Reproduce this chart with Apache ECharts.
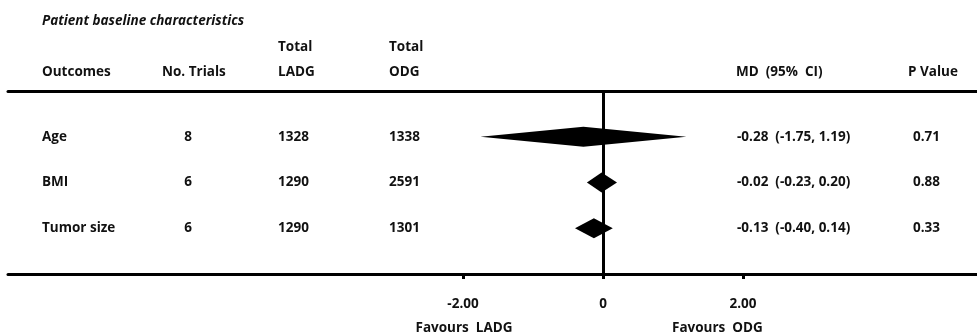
<!DOCTYPE html>
<html><head><meta charset="utf-8">
<script src="https://cdn.jsdelivr.net/npm/echarts@6/dist/echarts.min.js"></script>
<style>html,body{margin:0;padding:0;background:#fff}#c{width:977px;height:335px}</style>
</head><body><div id="c"></div>
<script>
// ---- data ----
const outcomes = ['Age', 'BMI', 'Tumor size'];
const trials = [8, 6, 6];
const totalLADG = [1328, 1290, 1290];
const totalODG = [1338, 2591, 1301];
const md = [-0.28, -0.02, -0.13];
const ciLow = [-1.75, -0.23, -0.40];
const ciHigh = [1.19, 0.20, 0.14];
const pValues = [0.71, 0.88, 0.33];
const tickValues = [-2, 0, 2];
const tickLabels = ['-2.00', '0', '2.00'];

// ---- layout ----
const FONT = '"Open Sans", "Noto Sans", sans-serif';
const FS = 13.5;
const INK = '#111';
const X_MIN = -8.5, X_MAX = 5.343;
const col = { outcome: 42, trials: 188, ladg: 278, odg: 389, md: 737, p: 913 };

const chart = echarts.init(document.getElementById('c'), null, { renderer: 'canvas' });

function txt(x, y, s, opts) {
  return {
    type: 'text', x: x, y: y,
    style: Object.assign({ text: s, fill: INK, font: 'bold ' + FS + 'px ' + FONT, textAlign: 'left', textVerticalAlign: 'middle' }, (opts || {}))
  };
}

const rowData = outcomes.map((o, i) => [i, i + 1]);
const diamondData = md.map((m, i) => [ciLow[i], m, ciHigh[i], i + 1]);

chart.setOption({
  animation: false,
  backgroundColor: '#fff',
  grid: { left: 8, right: 0, top: 91, bottom: 61 },
  xAxis: [{
    type: 'value', min: X_MIN, max: X_MAX, position: 'bottom',
    splitLine: { show: false },
    axisLine: { show: true, onZero: false, lineStyle: { color: '#000', width: 3 } },
    axisTick: { show: true, customValues: tickValues, length: 5, inside: false, lineStyle: { color: '#000', width: 3 } },
    axisLabel: {
      show: true, customValues: tickValues, margin: 23,
      color: INK, fontFamily: FONT, fontWeight: 'bold', fontSize: FS,
      formatter: function (v) { const k = tickValues.indexOf(v); return k >= 0 ? tickLabels[k] : ''; }
    }
  }, {
    type: 'value', min: X_MIN, max: X_MAX, position: 'top',
    splitLine: { show: false },
    axisLine: { show: true, onZero: false, lineStyle: { color: '#000', width: 3 } },
    axisTick: { show: false }, axisLabel: { show: false }
  }],
  yAxis: { type: 'value', inverse: true, min: 0, max: 4, show: false },
  series: [{
    type: 'custom', name: 'diamonds', clip: false,
    data: diamondData,
    renderItem: function (params, api) {
      const y = api.value(3);
      const lo = api.coord([api.value(0), y]);
      const mid = api.coord([api.value(1), y]);
      const hi = api.coord([api.value(2), y]);
      const h = 10;
      return {
        type: 'polygon',
        shape: { points: [[lo[0], lo[1]], [mid[0], mid[1] - h], [hi[0], hi[1]], [mid[0], mid[1] + h]] },
        style: { fill: '#000' }
      };
    },
    markLine: {
      silent: true, symbol: 'none', label: { show: false },
      lineStyle: { color: '#000', width: 3, type: 'solid' },
      data: [{ xAxis: 0 }]
    }
  }, {
    type: 'custom', name: 'table', clip: false,
    data: rowData,
    renderItem: function (params, api) {
      const i = api.value(0);
      const y = api.coord([0, api.value(1)])[1];
      const mdText = md[i].toFixed(2) + '  (' + ciLow[i].toFixed(2) + ', ' + ciHigh[i].toFixed(2) + ')';
      return {
        type: 'group',
        children: [
          txt(col.outcome, y, outcomes[i]),
          txt(col.trials, y, String(trials[i]), { textAlign: 'center' }),
          txt(col.ladg, y, String(totalLADG[i])),
          txt(col.odg, y, String(totalODG[i])),
          txt(col.md, y, mdText),
          txt(col.p, y, pValues[i].toFixed(2))
        ]
      };
    }
  }],
  graphic: [
    txt(42, 21, 'Patient baseline characteristics', { font: 'italic bold ' + FS + 'px ' + FONT }),
    txt(278, 47, 'Total'),
    txt(389, 47, 'Total'),
    txt(42, 72, 'Outcomes'),
    txt(162, 72, 'No. Trials'),
    txt(278, 72, 'LADG'),
    txt(389, 72, 'ODG'),
    txt(736, 72, 'MD  (95%  CI)'),
    txt(908, 72, 'P Value'),
    txt(464, 328, 'Favours  LADG', { textAlign: 'center' }),
    txt(672, 328, 'Favours  ODG')
  ]
});
</script>
</body></html>
